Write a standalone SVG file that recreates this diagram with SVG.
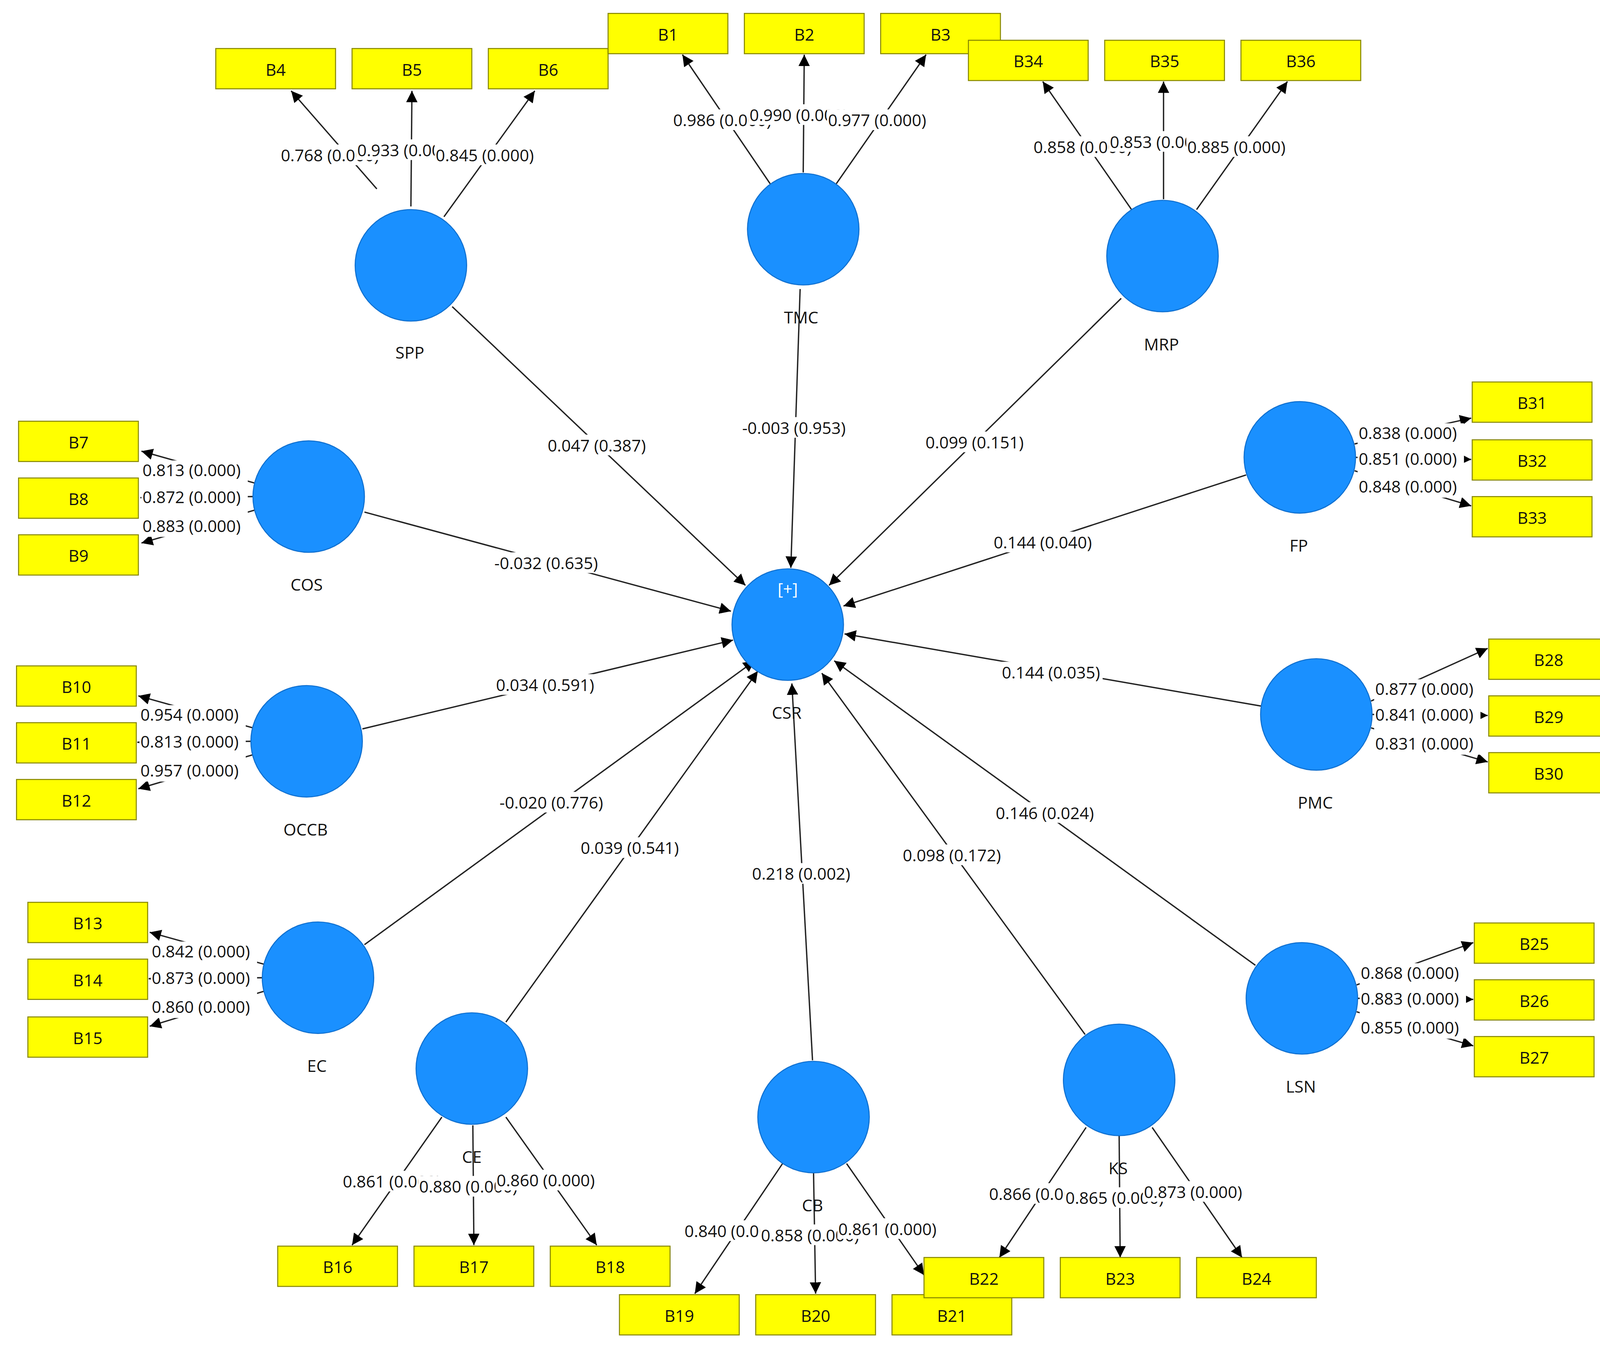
<svg xmlns="http://www.w3.org/2000/svg" width="4144" height="3456" viewBox="0 0 4144 3456">
<style>
.c{fill:#1a90ff;stroke:#1070d0;stroke-width:1}
.b{fill:#ffff00;stroke:#888800;stroke-width:1}
.t{font-family:"Open Sans","Liberation Sans",sans-serif;font-size:16px;fill:#111;dominant-baseline:central}
.m{text-anchor:middle}
.l path{stroke:#222;stroke-width:1.3;fill:none;marker-end:url(#ar)}
.bg{fill:#fff}
</style>
<defs><marker id="ar" viewBox="0 0 10 10" refX="10" refY="5" markerWidth="11" markerHeight="11" markerUnits="userSpaceOnUse" orient="auto"><path d="M0,0L10,5L0,10z" fill="#000"/></marker></defs>
<rect width="4144" height="3456" fill="#fff"/>
<g transform="scale(2.643)">
<g id="connectors">
<g class="l">
<path d="M438,297L722,567"/><path d="M775,280L766,550"/><path d="M1086,289L803,567"/><path d="M353,496L708,592"/><path d="M1207,460L817,587"/><path d="M351,706L710,620"/><path d="M1222,684L818,614"/><path d="M353,915L731,640"/><path d="M490,990L734,650"/><path d="M787,1027L767,662"/><path d="M1051,1002L796,652"/><path d="M1216,935L808,640"/>
<path d="M365,183L282,88"/><path d="M398,200L399,88"/><path d="M430,210L518,88"/><path d="M746,178L661,53"/><path d="M778,167L779,53"/><path d="M810,178L897,53"/><path d="M1096,203L1010,79"/><path d="M1127,193L1127,79"/><path d="M1159,203L1247,79"/>
<path d="M247,468L137,437"/><path d="M245,481L136,482"/><path d="M247,494L137,526"/><path d="M245,705L134,674"/><path d="M243,718L133,719"/><path d="M245,731L134,764"/><path d="M256,934L145,903"/><path d="M254,947L144,948"/><path d="M256,960L145,994"/>
<path d="M1312,430L1425,405"/><path d="M1313,443L1425,445"/><path d="M1312,456L1425,490"/><path d="M1328,679L1441,628"/><path d="M1329,692L1441,693"/><path d="M1328,705L1441,738"/><path d="M1314,954L1427,913"/><path d="M1315,967L1427,968"/><path d="M1314,980L1427,1013"/>
<path d="M428,1082L341,1206"/><path d="M458,1090L459,1206"/><path d="M490,1082L578,1206"/><path d="M758,1127L673,1253"/><path d="M788,1136L790,1253"/><path d="M820,1127L895,1235"/><path d="M1052,1092L968,1218"/><path d="M1084,1100L1085,1218"/><path d="M1116,1092L1203,1218"/>
</g>
<g class="t">
<rect class="bg" x="271" y="140" width="98" height="20"/><text x="272" y="150">0.768 (0.000)</text>
<rect class="bg" x="345" y="135" width="76" height="20"/><text x="346" y="145">0.933 (0.000)</text>
<rect class="bg" x="421" y="140" width="98" height="20"/><text x="422" y="150">0.845 (0.000)</text>
<rect class="bg" x="651" y="106" width="98" height="20"/><text x="652" y="116">0.986 (0.000)</text>
<rect class="bg" x="725" y="101" width="76" height="20"/><text x="726" y="111">0.990 (0.000)</text>
<rect class="bg" x="801" y="106" width="98" height="20"/><text x="802" y="116">0.977 (0.000)</text>
<rect class="bg" x="1000" y="132" width="98" height="20"/><text x="1001" y="142">0.858 (0.000)</text>
<rect class="bg" x="1074" y="127" width="76" height="20"/><text x="1075" y="137">0.853 (0.000)</text>
<rect class="bg" x="1149" y="132" width="98" height="20"/><text x="1150" y="142">0.885 (0.000)</text>
<rect class="bg" x="331" y="1134" width="98" height="20"/><text x="332" y="1144">0.861 (0.000)</text>
<rect class="bg" x="405" y="1139" width="76" height="20"/><text x="406" y="1149">0.880 (0.000)</text>
<rect class="bg" x="480" y="1133" width="98" height="20"/><text x="481" y="1143">0.860 (0.000)</text>
<rect class="bg" x="662" y="1182" width="98" height="20"/><text x="663" y="1192">0.840 (0.000)</text>
<rect class="bg" x="736" y="1186" width="76" height="20"/><text x="737" y="1196">0.858 (0.000)</text>
<rect class="bg" x="811" y="1180" width="98" height="20"/><text x="812" y="1190">0.861 (0.000)</text>
<rect class="bg" x="957" y="1146" width="98" height="20"/><text x="958" y="1156">0.866 (0.000)</text>
<rect class="bg" x="1031" y="1150" width="76" height="20"/><text x="1032" y="1160">0.865 (0.000)</text>
<rect class="bg" x="1107" y="1144" width="98" height="20"/><text x="1108" y="1154">0.873 (0.000)</text>
<rect class="bg" x="137" y="446" width="103" height="74"/>
<text x="138" y="455">0.813 (0.000)</text><text x="138" y="481">0.872 (0.000)</text><text x="138" y="509">0.883 (0.000)</text>
<rect class="bg" x="135" y="683" width="103" height="74"/>
<text x="136" y="692">0.954 (0.000)</text><text x="136" y="718">0.813 (0.000)</text><text x="136" y="746">0.957 (0.000)</text>
<rect class="bg" x="146" y="912" width="103" height="74"/>
<text x="147" y="921">0.842 (0.000)</text><text x="147" y="947">0.873 (0.000)</text><text x="147" y="975">0.860 (0.000)</text>
<rect class="bg" x="1315" y="410" width="103" height="72"/>
<text x="1316" y="419">0.838 (0.000)</text><text x="1316" y="444">0.851 (0.000)</text><text x="1316" y="471">0.848 (0.000)</text>
<rect class="bg" x="1331" y="658" width="103" height="73"/>
<text x="1332" y="667">0.877 (0.000)</text><text x="1332" y="692">0.841 (0.000)</text><text x="1332" y="720">0.831 (0.000)</text>
<rect class="bg" x="1317" y="933" width="103" height="73"/>
<text x="1318" y="942">0.868 (0.000)</text><text x="1318" y="967">0.883 (0.000)</text><text x="1318" y="995">0.855 (0.000)</text>
</g>
<g class="t m">
<rect class="bg" x="528" y="421" width="100" height="20"/><text x="578" y="431">0.047 (0.387)</text>
<rect class="bg" x="716" y="404" width="106" height="20"/><text x="769" y="414">-0.003 (0.953)</text>
<rect class="bg" x="894" y="418" width="100" height="20"/><text x="944" y="428">0.099 (0.151)</text>
<rect class="bg" x="476" y="535" width="106" height="20"/><text x="529" y="545">-0.032 (0.635)</text>
<rect class="bg" x="960" y="515" width="100" height="20"/><text x="1010" y="525">0.144 (0.040)</text>
<rect class="bg" x="478" y="653" width="100" height="20"/><text x="528" y="663">0.034 (0.591)</text>
<rect class="bg" x="968" y="641" width="100" height="20"/><text x="1018" y="651">0.144 (0.035)</text>
<rect class="bg" x="481" y="767" width="106" height="20"/><text x="534" y="777">-0.020 (0.776)</text>
<rect class="bg" x="560" y="811" width="100" height="20"/><text x="610" y="821">0.039 (0.541)</text>
<rect class="bg" x="726" y="836" width="100" height="20"/><text x="776" y="846">0.218 (0.002)</text>
<rect class="bg" x="872" y="818" width="100" height="20"/><text x="922" y="828">0.098 (0.172)</text>
<rect class="bg" x="962" y="777" width="100" height="20"/><text x="1012" y="787">0.146 (0.024)</text>
</g>
</g>
<g class="t m">
<g id="SPP"><circle class="c" cx="398" cy="257" r="54"/><text x="397" y="341">SPP</text></g>
<g id="TMC"><circle class="c" cx="778" cy="222" r="54"/><text x="776" y="307">TMC</text></g>
<g id="MRP"><circle class="c" cx="1126" cy="248" r="54"/><text x="1125" y="333">MRP</text></g>
<g id="COS"><circle class="c" cx="299" cy="481" r="54"/><text x="297" y="566">COS</text></g>
<g id="CSR"><circle class="c" cx="763" cy="605" r="54"/><text x="763" y="570" style="fill:#fff">[+]</text><text x="762" y="690">CSR</text></g>
<g id="FP"><circle class="c" cx="1259" cy="443" r="54"/><text x="1258" y="528">FP</text></g>
<g id="OCCB"><circle class="c" cx="297" cy="718" r="54"/><text x="296" y="803">OCCB</text></g>
<g id="PMC"><circle class="c" cx="1275" cy="692" r="54"/><text x="1274" y="777">PMC</text></g>
<g id="EC"><circle class="c" cx="308" cy="947" r="54"/><text x="307" y="1032">EC</text></g>
<g id="LSN"><circle class="c" cx="1261" cy="967" r="54"/><text x="1260" y="1052">LSN</text></g>
<g id="CE"><circle class="c" cx="457" cy="1035" r="54"/><text x="457" y="1120">CE</text></g>
<g id="CB"><circle class="c" cx="788" cy="1082" r="54"/><text x="787" y="1167">CB</text></g>
<g id="KS"><circle class="c" cx="1084" cy="1046" r="54"/><text x="1083" y="1131">KS</text></g>
<g id="B4"><rect class="b" x="209" y="47" width="116" height="39"/><text x="267" y="67">B4</text></g>
<g id="B5"><rect class="b" x="341" y="47" width="116" height="39"/><text x="399" y="67">B5</text></g>
<g id="B6"><rect class="b" x="473" y="47" width="116" height="39"/><text x="531" y="67">B6</text></g>
<g id="B1"><rect class="b" x="589" y="13" width="116" height="39"/><text x="647" y="33">B1</text></g>
<g id="B2"><rect class="b" x="721" y="13" width="116" height="39"/><text x="779" y="33">B2</text></g>
<g id="B3"><rect class="b" x="853" y="13" width="116" height="39"/><text x="911" y="33">B3</text></g>
<g id="B34"><rect class="b" x="938" y="39" width="116" height="39"/><text x="996" y="59">B34</text></g>
<g id="B35"><rect class="b" x="1070" y="39" width="116" height="39"/><text x="1128" y="59">B35</text></g>
<g id="B36"><rect class="b" x="1202" y="39" width="116" height="39"/><text x="1260" y="59">B36</text></g>
<g id="B7"><rect class="b" x="18" y="408" width="116" height="39"/><text x="76" y="428">B7</text></g>
<g id="B8"><rect class="b" x="18" y="463" width="116" height="39"/><text x="76" y="483">B8</text></g>
<g id="B9"><rect class="b" x="18" y="518" width="116" height="39"/><text x="76" y="538">B9</text></g>
<g id="B10"><rect class="b" x="16" y="645" width="116" height="39"/><text x="74" y="665">B10</text></g>
<g id="B11"><rect class="b" x="16" y="700" width="116" height="39"/><text x="74" y="720">B11</text></g>
<g id="B12"><rect class="b" x="16" y="755" width="116" height="39"/><text x="74" y="775">B12</text></g>
<g id="B13"><rect class="b" x="27" y="874" width="116" height="39"/><text x="85" y="894">B13</text></g>
<g id="B14"><rect class="b" x="27" y="929" width="116" height="39"/><text x="85" y="949">B14</text></g>
<g id="B15"><rect class="b" x="27" y="985" width="116" height="39"/><text x="85" y="1005">B15</text></g>
<g id="B31"><rect class="b" x="1426" y="370" width="116" height="39"/><text x="1484" y="390">B31</text></g>
<g id="B32"><rect class="b" x="1426" y="426" width="116" height="39"/><text x="1484" y="446">B32</text></g>
<g id="B33"><rect class="b" x="1426" y="481" width="116" height="39"/><text x="1484" y="501">B33</text></g>
<g id="B28"><rect class="b" x="1442" y="619" width="116" height="39"/><text x="1500" y="639">B28</text></g>
<g id="B29"><rect class="b" x="1442" y="674" width="116" height="39"/><text x="1500" y="694">B29</text></g>
<g id="B30"><rect class="b" x="1442" y="729" width="116" height="39"/><text x="1500" y="749">B30</text></g>
<g id="B25"><rect class="b" x="1428" y="894" width="116" height="39"/><text x="1486" y="914">B25</text></g>
<g id="B26"><rect class="b" x="1428" y="949" width="116" height="39"/><text x="1486" y="969">B26</text></g>
<g id="B27"><rect class="b" x="1428" y="1004" width="116" height="39"/><text x="1486" y="1024">B27</text></g>
<g id="B16"><rect class="b" x="269" y="1207" width="116" height="39"/><text x="327" y="1227">B16</text></g>
<g id="B17"><rect class="b" x="401" y="1207" width="116" height="39"/><text x="459" y="1227">B17</text></g>
<g id="B18"><rect class="b" x="533" y="1207" width="116" height="39"/><text x="591" y="1227">B18</text></g>
<g id="B19"><rect class="b" x="600" y="1254" width="116" height="39"/><text x="658" y="1274">B19</text></g>
<g id="B20"><rect class="b" x="732" y="1254" width="116" height="39"/><text x="790" y="1274">B20</text></g>
<g id="B21"><rect class="b" x="864" y="1254" width="116" height="39"/><text x="922" y="1274">B21</text></g>
<g id="B22"><rect class="b" x="895" y="1218" width="116" height="39"/><text x="953" y="1238">B22</text></g>
<g id="B23"><rect class="b" x="1027" y="1218" width="116" height="39"/><text x="1085" y="1238">B23</text></g>
<g id="B24"><rect class="b" x="1159" y="1218" width="116" height="39"/><text x="1217" y="1238">B24</text></g>
</g>
</g>
</svg>
